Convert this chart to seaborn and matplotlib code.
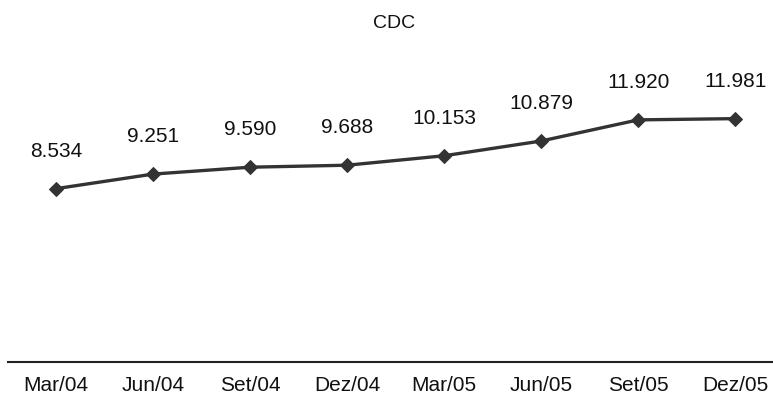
import matplotlib
matplotlib.use("Agg")
import matplotlib.pyplot as plt
import seaborn as sns
import pandas as pd

categories = ["Mar/04", "Jun/04", "Set/04", "Dez/04", "Mar/05", "Jun/05", "Set/05", "Dez/05"]
values = [8.534, 9.251, 9.590, 9.688, 10.153, 10.879, 11.920, 11.981]
labels = ["8.534", "9.251", "9.590", "9.688", "10.153", "10.879", "11.920", "11.981"]
title = "CDC"

sns.set_style("white")
plt.rcParams['font.family'] = ['Liberation Sans', 'DejaVu Sans']

df = pd.DataFrame({"pos": range(len(categories)), "val": values})

fig = plt.figure(figsize=(7.73, 4.05), dpi=100)
ax = fig.add_axes([8 / 773, 1 - 362 / 405, 765 / 773, 325 / 405])

sns.lineplot(data=df, x="pos", y="val", ax=ax, color="#333333", linewidth=2.4,
             marker="D", markersize=7, markeredgecolor="#333333")

for x, y, t in zip(df["pos"], values, labels):
    ax.annotate(t, (x, y), xytext=(0, 27), textcoords="offset points",
                ha="center", va="center", fontsize=15, color="#111111")

ax.set_xlim(-0.495, 7.39)
ax.set_ylim(0, 16)
ax.set_xticks(range(len(categories)))
ax.set_xticklabels(categories, fontsize=15, color="#111111")
ax.tick_params(axis="x", length=0, pad=10)
ax.set_yticks([])
ax.set_xlabel("")
ax.set_ylabel("")
for s in ["top", "right", "left"]:
    ax.spines[s].set_visible(False)
ax.spines["bottom"].set_color("#222222")
ax.spines["bottom"].set_linewidth(1.5)

fig.text(394 / 773, 1 - 24 / 405, title, ha="center", va="center", fontsize=14, color="#111111")

fig.savefig("out.png", dpi=100)
